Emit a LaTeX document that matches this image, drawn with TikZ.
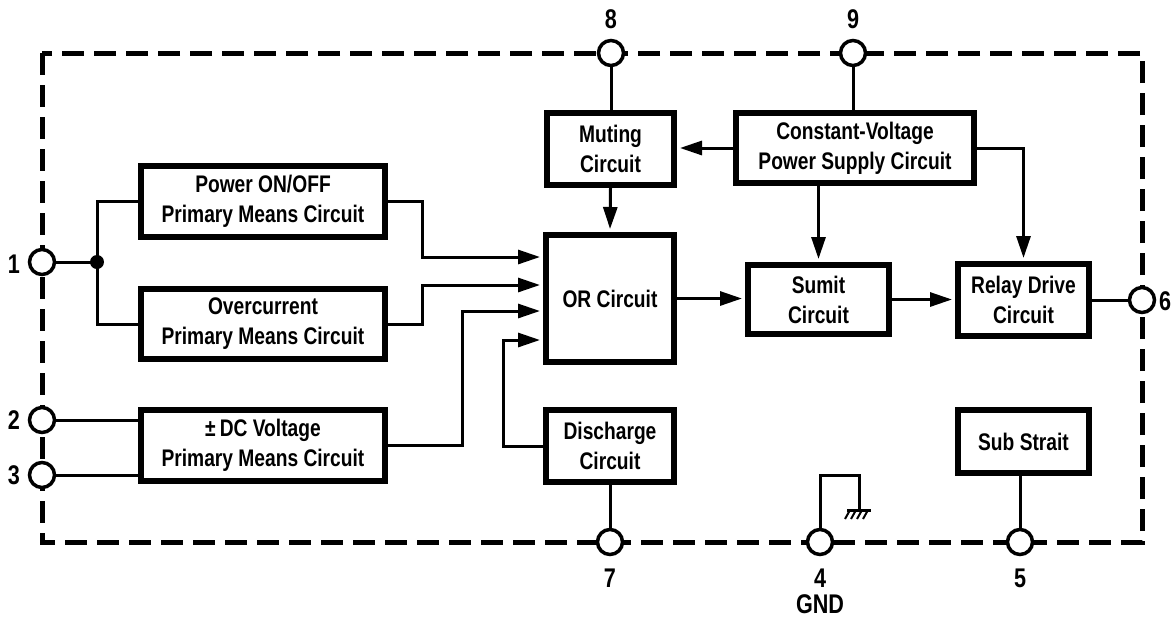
\documentclass[tikz,border=0pt]{standalone}
\usepackage{fontspec}
\setmainfont{Liberation Sans}[FakeStretch=0.8]
\usetikzlibrary{arrows.meta}
\begin{document}
\begin{tikzpicture}[x=1pt,y=-1pt,
 blk/.style={draw, line width=6pt, align=center, font=\fontsize{24}{30}\selectfont\bfseries, inner sep=0pt},
 wire/.style={line width=3pt},
 arr/.style={wire, -{Triangle[length=22pt,width=14pt]}, shorten >=3pt},
 pin/.style={circle, draw, line width=3.5pt, fill=white, minimum size=25pt, inner sep=0pt},
 lbl/.style={font=\fontsize{27}{27}\selectfont\bfseries}]
\useasboundingbox (0,0) rectangle (1176,619);
% border
\draw[line width=5pt, dash pattern=on 22pt off 10pt] (42,53) rectangle (1142,542);
% blocks
\node[blk, minimum width=244pt, minimum height=71pt] (pw) at (263,201) {Power ON/OFF\\Primary Means Circuit};
\node[blk, minimum width=244pt, minimum height=70pt] (oc) at (263,324) {Overcurrent\\Primary Means Circuit};
\node[blk, minimum width=244pt, minimum height=71pt] (dc) at (263,445.5) {±\,DC Voltage\\Primary Means Circuit};
\node[blk, minimum width=127pt, minimum height=72pt] (mu) at (610.5,149) {Muting\\Circuit};
\node[blk, minimum width=238pt, minimum height=70pt] (cv) at (855,148) {Constant-Voltage\\Power Supply Circuit};
\node[blk, minimum width=128pt, minimum height=127pt] (or) at (610,298.5) {OR Circuit};
\node[blk, minimum width=128pt, minimum height=72pt] (dis) at (610,446) {Discharge\\Circuit};
\node[blk, minimum width=141pt, minimum height=69pt] (su) at (818.5,299.5) {Sumit\\Circuit};
\node[blk, minimum width=131pt, minimum height=72pt] (rd) at (1023.5,300) {Relay Drive\\Circuit};
\node[blk, minimum width=131pt, minimum height=63pt] (sub) at (1023.5,441.5) {Sub Strait};
% pins
\node[pin] (p1) at (42,262) {};
\node[pin] (p2) at (42,420) {};
\node[pin] (p3) at (42,475) {};
\node[pin] (p6) at (1142,300) {};
\node[pin] (p8) at (611,53) {};
\node[pin] (p9) at (853,53) {};
\node[pin] (p7) at (610,542) {};
\node[pin] (p4) at (820,542) {};
\node[pin] (p5) at (1020,542) {};
% pin labels
\node[lbl] (l1) at (14,264) {1};
\node[lbl] (l2) at (14,420) {2};
\node[lbl] (l3) at (14,475) {3};
\node[lbl] (l6) at (1165,301) {6};
\node[lbl] (l8) at (611,19) {8};
\node[lbl] (l9) at (853,19) {9};
\node[lbl] (l7) at (610,578) {7};
\node[lbl] (l4) at (820,578) {4};
\node[lbl] (lg) at (820,604) {GND};
\node[lbl] (l5) at (1020,578) {5};
% pin 1 junction
\coordinate (j) at (97,262);
\draw[wire] (p1) -- (j);
\fill (j) circle (7);
\draw[wire] (pw.west) -| (j) |- (oc.west);
% pins 2,3
\draw[wire] (p2) -- (p2 -| dc.west);
\draw[wire] (p3) -- (p3 -| dc.west);
% into OR
\draw[arr] (pw.east) -- ++(34,0) |- ([yshift=41.5pt]or.west);
\draw[arr] (oc.east) -- ++(34,0) |- ([yshift=13.5pt]or.west);
\draw[arr] (dc.east) -- ++(74,0) |- ([yshift=-12.5pt]or.west);
\draw[arr] (dis.west) -- ++(-40,0) |- ([yshift=-41.5pt]or.west);
% others
\draw[arr] (mu.south) -- (or.north);
\draw[arr] (cv.west) -- (cv.west -| mu.east);
\draw[arr] (su.north |- cv.south) -- (su.north);
\draw[arr] (cv.east) -| (rd.north);
\draw[arr] (or.east) -- (or.east -| su.west);
\draw[arr] (su.east) -- (su.east -| rd.west);
\draw[wire] (rd.east) -- (p6);
\draw[wire] (p8) -- (p8 |- mu.north);
\draw[wire] (p9) -- (p9 |- cv.north);
\draw[wire] (p7) -- (p7 |- dis.south);
\draw[wire] (p5) -- (p5 |- sub.south);
% ground
\coordinate (gnd) at (859,510);
\draw[wire] (p4) -- (820,475) -| (gnd);
\draw[wire] ([xshift=-12pt]gnd) -- ([xshift=12pt]gnd);
\foreach \dx in {-9,-3,3,9} \draw[line width=2pt] ([xshift=\dx pt]gnd) -- ++(-5,9);
\end{tikzpicture}
\end{document}
